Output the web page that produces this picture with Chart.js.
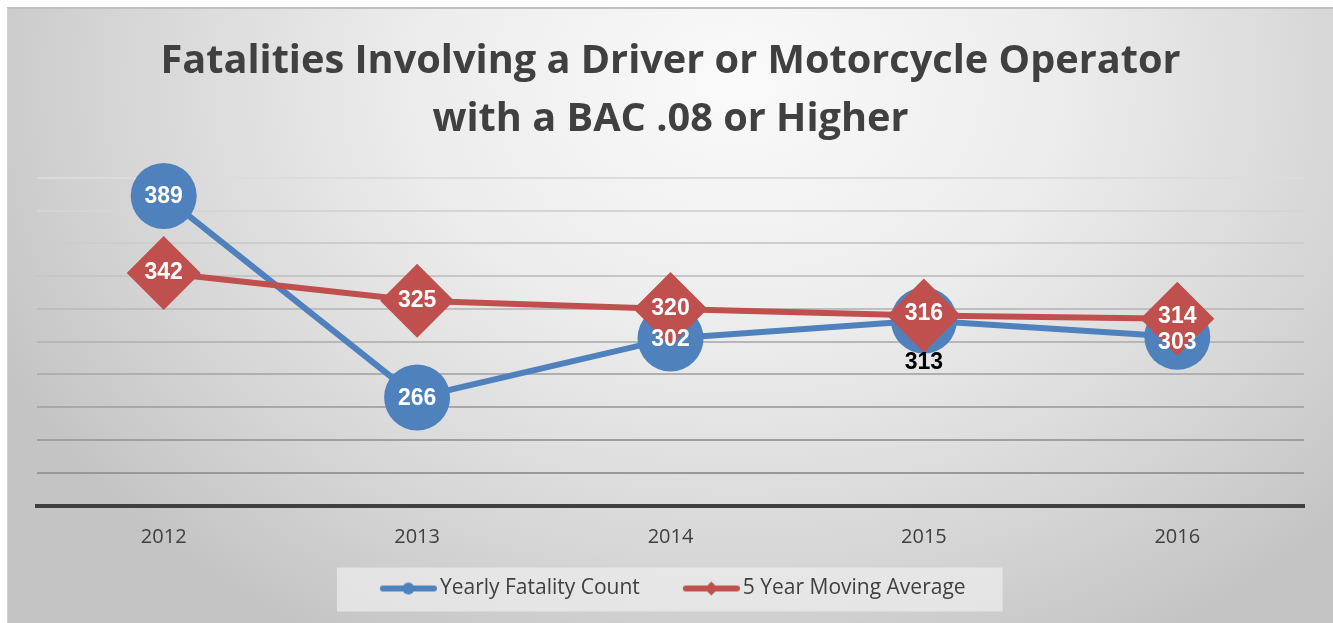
<!DOCTYPE html>
<html><head><meta charset="utf-8">
<script src="https://cdn.jsdelivr.net/npm/chart.js@4"></script>
<style>
html,body{margin:0;padding:0;background:#fff;overflow:hidden;}
#bg{position:absolute;left:7px;top:7px;width:1326px;height:616px;box-sizing:border-box;border-top:2px solid #c0c0c0;border-left:1px solid #cfcfcf;
background:radial-gradient(ellipse 62% 105% at 55% 12%, #fafafa 0%, #ececec 40%, #d6d6d6 75%, #c4c4c4 100%);}
canvas{position:absolute;left:0;top:0;}
</style></head>
<body>
<div id="bg"></div>
<canvas id="c" width="1333" height="623"></canvas>
<script>
const categories = ['2012', '2013', '2014', '2015', '2016'];
const yearlyFatalityCount = [389, 266, 302, 313, 303];
const fiveYearMovingAverage = [342, 325, 320, 316, 314];
const seriesNames = ['Yearly Fatality Count', '5 Year Moving Average'];
const titleLines = ['Fatalities Involving a Driver or Motorcycle Operator', 'with a BAC .08 or Higher'];
const yMin = 200, yMax = 400, yStep = 20;

const BLUE = '#4f81bd', RED = '#c0504d';
const LEGEND_SHIFT = -6;

function makeMarker(color, shape) {
  const c = document.createElement('canvas');
  c.width = 81; c.height = 20;
  const g = c.getContext('2d');
  g.strokeStyle = color; g.lineWidth = 6; g.lineCap = 'round';
  g.beginPath(); g.moveTo(27, 10); g.lineTo(78, 10); g.stroke();
  g.fillStyle = color;
  g.beginPath();
  if (shape === 'circle') { g.arc(52.5, 10, 6, 0, Math.PI * 2); }
  else { g.moveTo(52.5, 3); g.lineTo(59.5, 10); g.lineTo(52.5, 17); g.lineTo(45.5, 10); g.closePath(); }
  g.fill();
  return c;
}
const blueMarker = makeMarker(BLUE, 'circle');
const redMarker = makeMarker(RED, 'diamond');

const legendBg = {
  id: 'legendBg',
  afterLayout(chart) {
    if (chart.legend) { chart.legend.left += 2 * LEGEND_SHIFT; }
  },
  beforeDraw(chart) {
    const lg = chart.legend;
    if (!lg || !lg.legendHitBoxes || !lg.legendHitBoxes.length) return;
    const hb = lg.legendHitBoxes;
    const first = hb[0], last = hb[hb.length - 1];
    const cy = first.top + first.height / 2 + 1;
    const ctx = chart.ctx;
    ctx.save();
    ctx.fillStyle = 'rgba(238,238,238,0.7)';
    const l = first.left + 16.5 - 43, r = last.left + last.width + 37;
    ctx.fillRect(l, cy - 22, r - l, 44);
    ctx.restore();
  }
};

const valueLabels = {
  id: 'valueLabels',
  afterDatasetsDraw(chart, args, opts) {
    const ctx = chart.ctx;
    ctx.save();
    ctx.font = 'bold 23px "Liberation Sans", Arial, sans-serif';
    ctx.textAlign = 'center';
    ctx.textBaseline = 'middle';
    chart.data.datasets.forEach((ds, di) => {
      const meta = chart.getDatasetMeta(di);
      const cfg = opts.series[di];
      meta.data.forEach((pt, i) => {
        ctx.fillStyle = cfg.colors[i];
        ctx.fillText(String(ds.data[i]), pt.x, pt.y + cfg.dy[i]);
      });
    });
    ctx.restore();
  }
};

function gridColor(ctx) {
  const v = ctx.tick ? ctx.tick.value : yMax;
  const t = (yMax - v) / (yMax - yMin);
  const c = Math.round(220 - t * 75);
  return 'rgb(' + c + ',' + c + ',' + c + ')';
}

new Chart(document.getElementById('c'), {
  type: 'line',
  data: {
    labels: categories,
    datasets: [
      {
        label: seriesNames[0], data: yearlyFatalityCount,
        borderColor: BLUE, backgroundColor: BLUE, borderWidth: 6,
        pointStyle: 'circle', pointRadius: 33, pointBackgroundColor: BLUE, pointBorderWidth: 0,
        tension: 0, clip: false, order: 1
      },
      {
        label: seriesNames[1], data: fiveYearMovingAverage,
        borderColor: RED, backgroundColor: RED, borderWidth: 6,
        pointStyle: 'rectRot', pointRadius: 37, pointBackgroundColor: RED, pointBorderWidth: 0,
        tension: 0, clip: false, order: 0
      }
    ]
  },
  options: {
    responsive: false,
    animation: false,
    layout: { autoPadding: false, padding: { left: 37, right: 29, top: 0, bottom: 14 } },
    scales: {
      x: {
        offset: true,
        grid: { display: false, drawTicks: false },
        border: { display: true, color: '#404040', width: 4 },
        ticks: { color: '#404040', font: { family: '"Open Sans"', size: 20 }, padding: 20 },
        afterFit(s) { s.height = 46; }
      },
      y: {
        min: yMin, max: yMax,
        ticks: { display: false, stepSize: yStep },
        grid: { color: gridColor, lineWidth: 2, drawTicks: false },
        border: { display: false },
        afterFit(s) { s.width = 0; }
      }
    },
    plugins: {
      tooltip: { enabled: false },
      title: {
        display: true, text: titleLines, color: '#404040',
        font: { family: '"Open Sans"', size: 39.7, weight: 'bold', lineHeight: 1.46 },
        padding: { top: 33, bottom: 29 }
      },
      legend: {
        position: 'bottom',
        labels: {
          usePointStyle: true, pointStyleWidth: 66,
          color: '#404040', font: { family: '"Open Sans"', size: 21 }, padding: 26.5,
          generateLabels(chart) {
            return chart.data.datasets.map((ds, i) => ({
              text: ds.label, pointStyle: i === 0 ? blueMarker : redMarker,
              fillStyle: ds.borderColor, strokeStyle: ds.borderColor, lineWidth: 0,
              fontColor: '#404040', datasetIndex: i, hidden: false
            }));
          }
        }
      },
      valueLabels: {
        series: [
          { colors: ['#fff', '#fff', '#fff', '#000', '#fff'], dy: [1, 1, 1, 42, 6] },
          { colors: ['#fff', '#fff', '#fff', '#fff', '#fff'], dy: [0, 0, 0, -2, -2] }
        ]
      }
    }
  },
  plugins: [legendBg, valueLabels]
});
</script>
</body></html>
